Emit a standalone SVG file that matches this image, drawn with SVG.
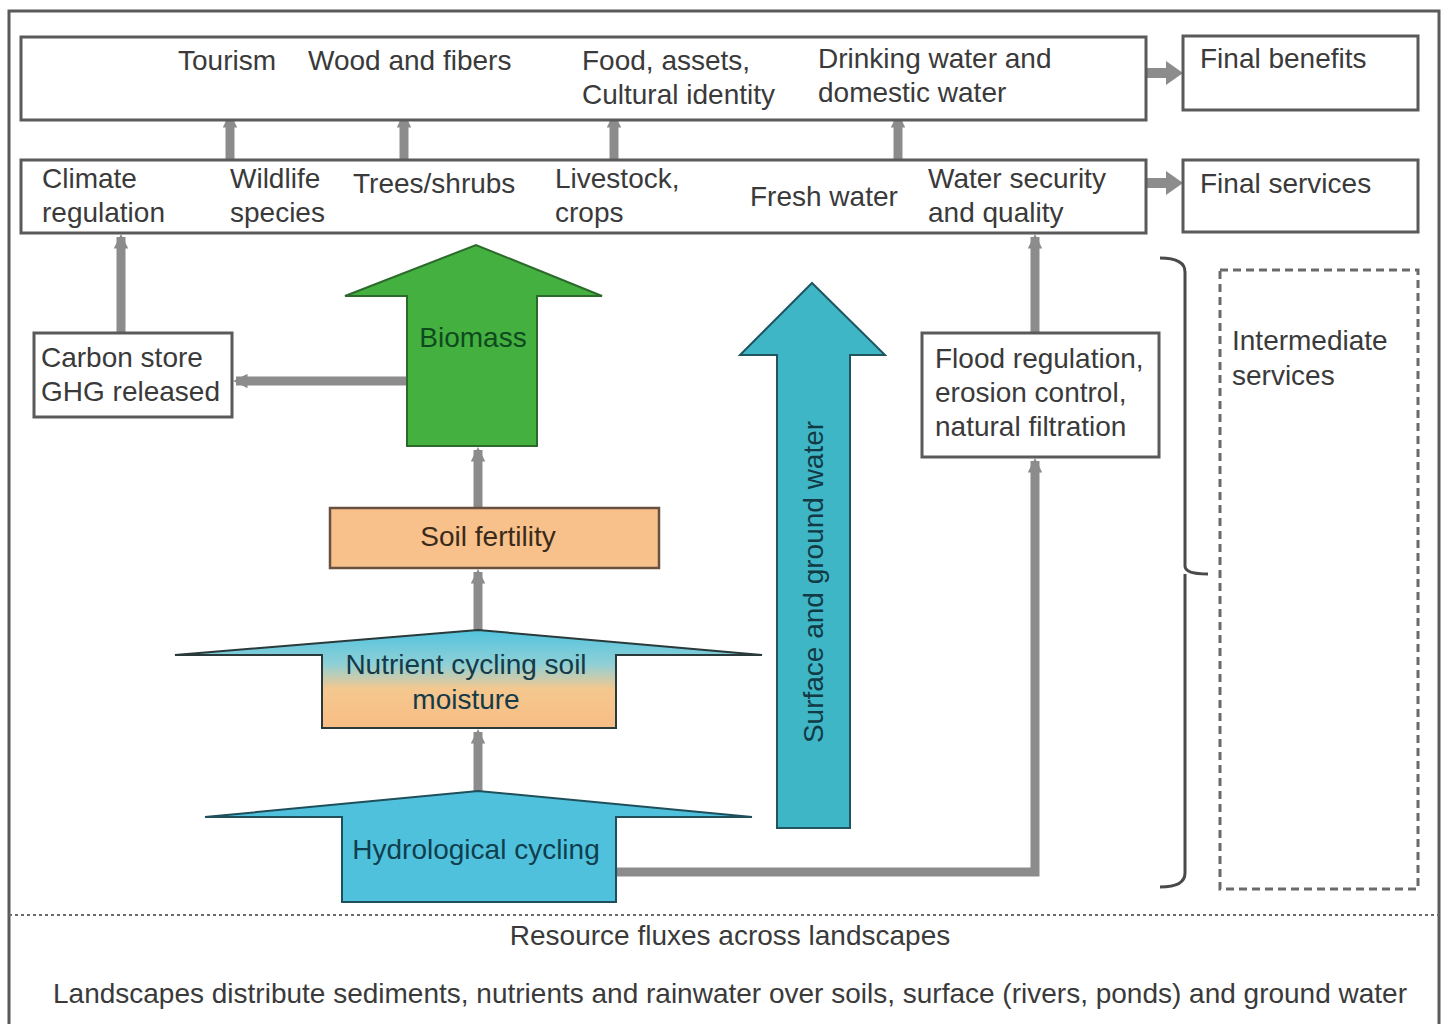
<svg xmlns="http://www.w3.org/2000/svg" width="1449" height="1024" viewBox="0 0 1449 1024">
<style>
.box{fill:#fff;stroke:#5a5a5a;stroke-width:3}
.t{font-family:"Liberation Sans",Arial,sans-serif;font-size:28px;fill:#3a3a3a}
.c{stroke:#8c8c8c;stroke-width:9;fill:none}
.tc{text-anchor:middle}
</style>
<defs>
<marker id="ah" viewBox="0 0 10 10" refX="8" refY="5" markerWidth="1.6" markerHeight="1.6" orient="auto">
<path d="M0,0 L10,5 L0,10 z" fill="#8c8c8c"/>
</marker>
<linearGradient id="ng" x1="0" y1="0" x2="0" y2="1">
<stop offset="0" stop-color="#52c3de"/>
<stop offset="0.35" stop-color="#8fd0d6"/>
<stop offset="0.6" stop-color="#f4c88f"/>
<stop offset="1" stop-color="#f8bd85"/>
</linearGradient>
</defs>
<rect x="0" y="0" width="1449" height="1024" fill="#fff"/>
<rect x="9" y="11" width="1430" height="1030" fill="none" stroke="#5a5a5a" stroke-width="3"/>
<line x1="9" y1="915" x2="1439" y2="915" stroke="#6a6a6a" stroke-width="2" stroke-dasharray="3,3"/>

<g id="connectors">
<line class="c" x1="230" y1="160" x2="230" y2="116" marker-end="url(#ah)"/>
<line class="c" x1="404" y1="160" x2="404" y2="116" marker-end="url(#ah)"/>
<line class="c" x1="614" y1="160" x2="614" y2="116" marker-end="url(#ah)"/>
<line class="c" x1="898" y1="160" x2="898" y2="116" marker-end="url(#ah)"/>
<line class="c" x1="121" y1="333" x2="121" y2="237" marker-end="url(#ah)"/>
<line class="c" x1="407" y1="381" x2="236" y2="381" marker-end="url(#ah)"/>
<line class="c" x1="478" y1="508" x2="478" y2="450" marker-end="url(#ah)"/>
<line class="c" x1="478" y1="630" x2="478" y2="572" marker-end="url(#ah)"/>
<line class="c" x1="478" y1="793" x2="478" y2="732" marker-end="url(#ah)"/>
<polyline class="c" points="616,872 1035,872 1035,461" marker-end="url(#ah)"/>
<line class="c" x1="1035" y1="333" x2="1035" y2="237" marker-end="url(#ah)"/>
<path d="M1146,68 H1166 V61 L1183,73 L1166,85 V78 H1146 Z" fill="#8c8c8c"/>
<path d="M1146,178 H1166 V171 L1183,183 L1166,195 V188 H1146 Z" fill="#8c8c8c"/>
<path d="M1160,258 Q1185,258 1185,272 V566 Q1185,574 1208,574 M1185,574 Q1185,582 1185,590 V873 Q1185,887 1160,887" fill="none" stroke="#4a4a4a" stroke-width="3"/>
</g>

<g id="benefits-row">
<rect class="box" x="21" y="37" width="1125" height="83"/>
<text class="t" x="178" y="70">Tourism</text>
<text class="t" x="308" y="70">Wood and fibers</text>
<text class="t" x="582" y="70">Food, assets,</text>
<text class="t" x="582" y="104">Cultural identity</text>
<text class="t" x="818" y="68">Drinking water and</text>
<text class="t" x="818" y="102">domestic water</text>
</g>

<g id="final-benefits">
<rect class="box" x="1183" y="36" width="235" height="74"/>
<text class="t" x="1200" y="68">Final benefits</text>
</g>

<g id="services-row">
<rect class="box" x="21" y="160" width="1125" height="73"/>
<text class="t" x="42" y="188">Climate</text>
<text class="t" x="42" y="222">regulation</text>
<text class="t" x="230" y="188">Wildlife</text>
<text class="t" x="230" y="222">species</text>
<text class="t" x="353" y="193">Trees/shrubs</text>
<text class="t" x="555" y="188">Livestock,</text>
<text class="t" x="555" y="222">crops</text>
<text class="t" x="750" y="206">Fresh water</text>
<text class="t" x="928" y="188">Water security</text>
<text class="t" x="928" y="222">and quality</text>
</g>

<g id="final-services">
<rect class="box" x="1183" y="160" width="235" height="72"/>
<text class="t" x="1200" y="193">Final services</text>
</g>

<g id="carbon">
<rect class="box" x="34" y="333" width="198" height="84"/>
<text class="t" x="41" y="367">Carbon store</text>
<text class="t" x="41" y="401">GHG released</text>
</g>

<g id="biomass">
<path d="M407,446 V296 H345 L476,245 L602,296 H537 V446 Z" fill="#44b040" stroke="#2c6a2c" stroke-width="2"/>
<text class="t tc" x="473" y="347" style="fill:#0f4a1e">Biomass</text>
</g>

<g id="soil-fertility">
<rect x="330" y="508" width="329" height="60" fill="#f8c08a" stroke="#6a5040" stroke-width="2.5"/>
<text class="t tc" x="488" y="546" style="fill:#3a2a1a">Soil fertility</text>
</g>

<g id="nutrient">
<path d="M322,728 V655 H175 L478,630 L762,655 H616 V728 Z" fill="url(#ng)" stroke="#2a3a3a" stroke-width="2"/>
<text class="t tc" x="466" y="674" style="fill:#153a48">Nutrient cycling soil</text>
<text class="t tc" x="466" y="709" style="fill:#153a48">moisture</text>
</g>

<g id="hydrological">
<path d="M342,902 V817 H205 L478,791 L752,817 H616 V902 Z" fill="#4fc1dc" stroke="#1f4f5a" stroke-width="2"/>
<text class="t tc" x="476" y="859" style="fill:#0f3e4e">Hydrological cycling</text>
</g>

<g id="surface-water">
<path d="M777,828 V355 H740 L812,283 L885,355 H850 V828 Z" fill="#3fb6c6" stroke="#1f5660" stroke-width="2"/>
<text class="t tc" transform="translate(823,582) rotate(-90)" style="fill:#123a44">Surface and ground water</text>
</g>

<g id="flood">
<rect class="box" x="922" y="333" width="237" height="124"/>
<text class="t" x="935" y="368">Flood regulation,</text>
<text class="t" x="935" y="402">erosion control,</text>
<text class="t" x="935" y="436">natural filtration</text>
</g>

<g id="intermediate">
<rect x="1220" y="270" width="198" height="619" fill="none" stroke="#6a6a6a" stroke-width="3" stroke-dasharray="8,5"/>
<text class="t" x="1232" y="350">Intermediate</text>
<text class="t" x="1232" y="385">services</text>
</g>

<g id="footer">
<text class="t tc" x="730" y="945">Resource fluxes across landscapes</text>
<text class="t tc" x="730" y="1003">Landscapes distribute sediments, nutrients and rainwater over soils, surface (rivers, ponds) and ground water</text>
</g>
</svg>
